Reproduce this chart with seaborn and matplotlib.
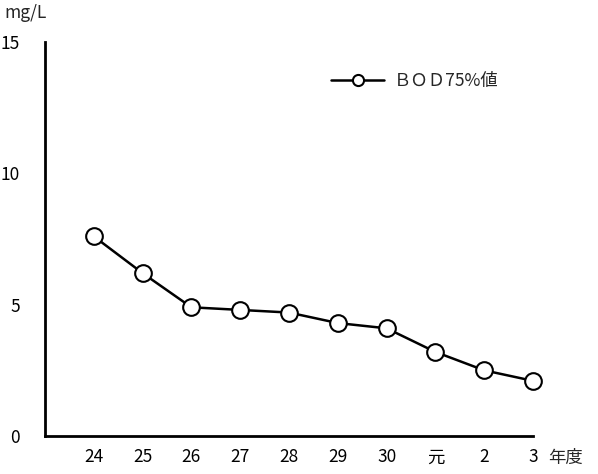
import matplotlib
matplotlib.use("Agg")
import matplotlib.pyplot as plt
import seaborn as sns
import pandas as pd

# 年度ごとのBOD75%値
years = ["24", "25", "26", "27", "28", "29", "30", "元", "2", "3"]
bod75 = [7.6, 6.2, 4.9, 4.8, 4.7, 4.3, 4.1, 3.2, 2.5, 2.1]
y_ticks = [0, 5, 10, 15]

sns.set_style("white")
plt.rcParams['font.family'] = ['Noto Sans CJK JP', 'DejaVu Sans']

df = pd.DataFrame({"年度": years, "BOD": bod75})

fig = plt.figure(figsize=(5.98, 4.74), dpi=100)
ax = fig.add_axes([45 / 598, 1 - 436 / 474, (533 - 45) / 598, (436 - 42) / 474])

sns.lineplot(
    data=df, x="年度", y="BOD", ax=ax, sort=False,
    color="black", linewidth=1.8,
    marker="o", markersize=12, markerfacecolor="white",
    markeredgecolor="black", markeredgewidth=1.5,
    label="ＢＯＤ75%値", clip_on=False, zorder=5,
)

ax.set_xlim(-1, len(years) - 1)
ax.set_ylim(0, 15)
ax.set_yticks(y_ticks)
ax.set_xticks(range(len(years)))
ax.set_xticklabels(years)
ax.set_xlabel("")
ax.set_ylabel("")

for side in ["top", "right"]:
    ax.spines[side].set_visible(False)
for side in ["left", "bottom"]:
    ax.spines[side].set_linewidth(2)
    ax.spines[side].set_color("black")

ax.tick_params(axis="both", direction="in", length=4, width=1.5,
               labelsize=12.5, colors="black")
ax.tick_params(axis="x", pad=9)
ax.tick_params(axis="y", pad=18)

fig.text(4 / 598, 1 - 13 / 474, "mg/L", fontsize=12.5, va="center", ha="left")
fig.text(548 / 598, 1 - 458 / 474, "年度", fontsize=12.5, va="center", ha="left")

leg = ax.legend(loc="center left", bbox_to_anchor=(0.555, 0.9),
                frameon=False, fontsize=12.5, handlelength=3.0,
                handletextpad=0.6)
for h in leg.get_lines():
    h.set_markersize(8)

fig.savefig("out.png", dpi=100)
